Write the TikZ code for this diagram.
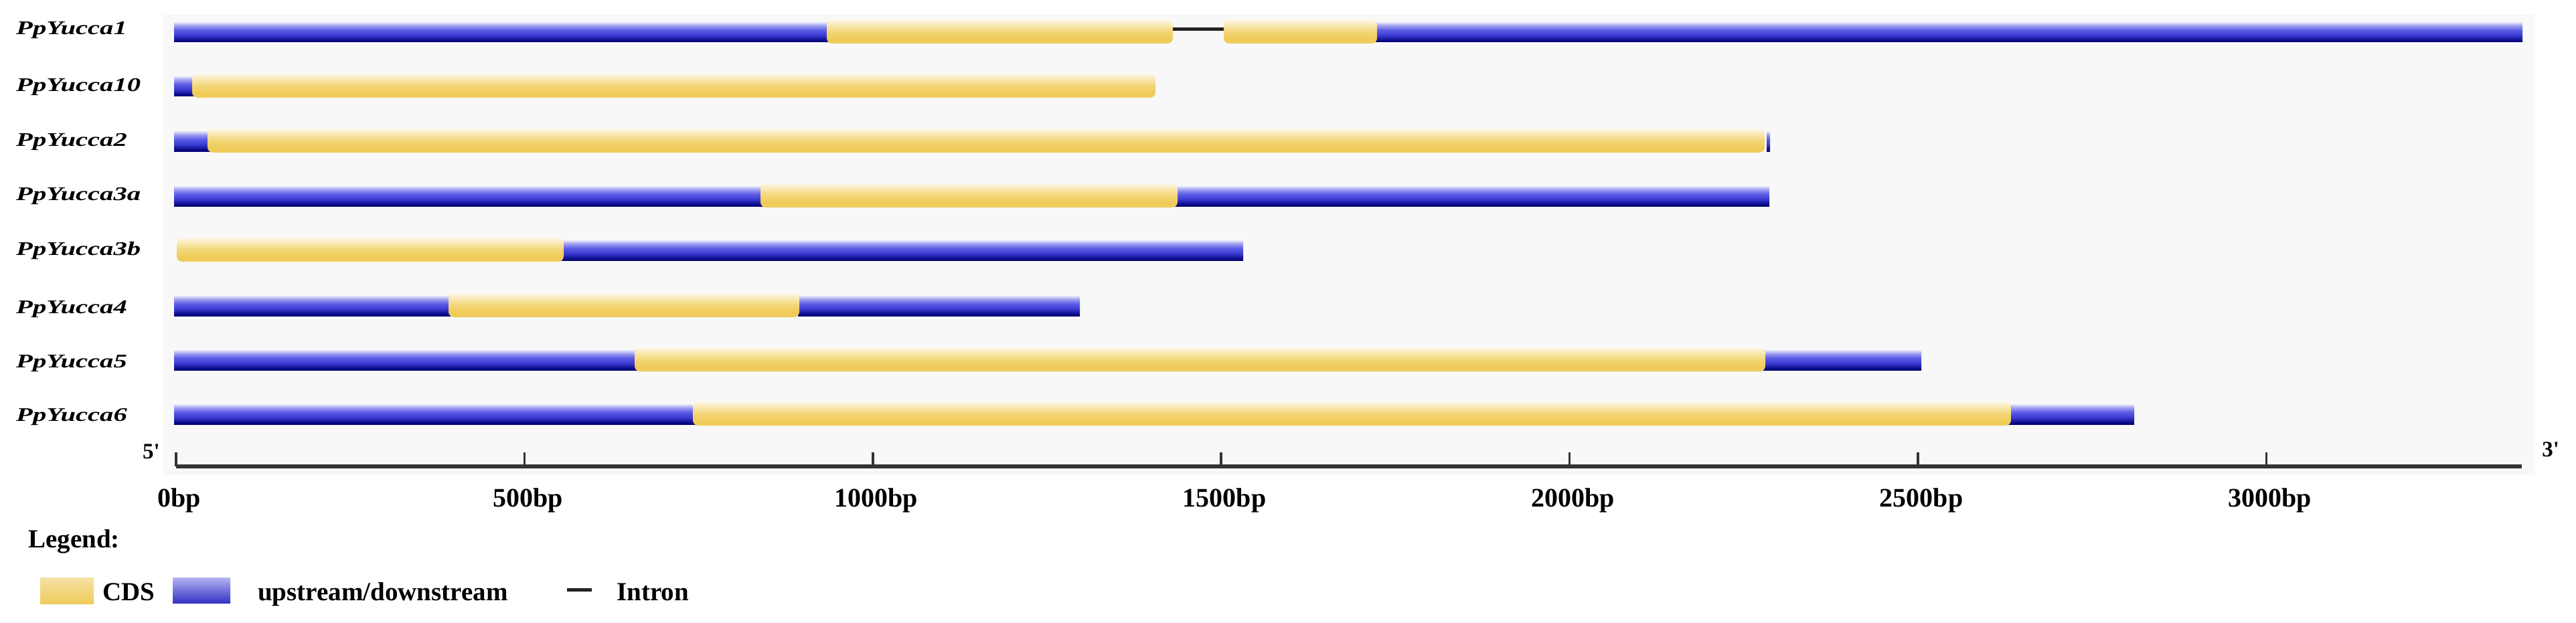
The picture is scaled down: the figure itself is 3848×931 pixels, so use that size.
\documentclass[tikz,border=0pt]{standalone}
\usepackage{fontspec}
\setmainfont{Liberation Serif}
\newfontfamily\nomapfont{Liberation Serif}[Ligatures=TeXOff]
\definecolor{panelbg}{HTML}{F8F8F8}
\definecolor{axiscol}{HTML}{333333}
\definecolor{introncol}{HTML}{222222}
\definecolor{bA}{HTML}{000070}
\definecolor{bB}{HTML}{101090}
\definecolor{bC}{HTML}{3A3AD2}
\definecolor{bD}{HTML}{5C5CE6}
\definecolor{bE}{HTML}{9C9CF0}
\definecolor{bF}{HTML}{E8E8FB}
\definecolor{yA}{HTML}{EFCC60}
\definecolor{yB}{HTML}{EFCB58}
\definecolor{yC}{HTML}{F3D677}
\definecolor{yD}{HTML}{F8E6AC}
\definecolor{yE}{HTML}{FDF8EA}
\definecolor{legyTop}{HTML}{F5E2A5}
\definecolor{legyBot}{HTML}{EFCB5C}
\definecolor{legbTop}{HTML}{B4B4F2}
\definecolor{legbBot}{HTML}{3434C4}
\pgfdeclareverticalshading{blueshade}{100bp}{color(0bp)=(bA); color(25bp)=(bA); color(31bp)=(bB); color(42bp)=(bC); color(55bp)=(bD); color(66bp)=(bE); color(75bp)=(bF); color(100bp)=(bF)}
\pgfdeclareverticalshading{cdsshade}{100bp}{color(0bp)=(yA); color(25bp)=(yA); color(35bp)=(yB); color(50bp)=(yC); color(62bp)=(yD); color(75bp)=(yE); color(100bp)=(yE)}
\newcommand\utrseg[3]{\shade[utr] (#1,#3-15) rectangle (#2,#3+15);}
\newcommand\cdsseg[3]{\shade[cds] (#1,#3-19) rectangle (#2,#3+17);}
\newcommand\intronseg[3]{\draw[intronline] (#1,#3-4) -- (#2,#3-4);}
\newcommand\glab[1]{\scalebox{1.07}[0.76]{#1}}
\begin{document}
\begin{tikzpicture}[x=1pt,y=-1pt,
  utr/.style={shading=blueshade},
  cds/.style={shading=cdsshade, rounded corners=8pt},
  intronline/.style={draw=introncol, line width=5pt},
  genelab/.style={anchor=base west, inner sep=0pt, font=\fontsize{38}{40}\selectfont\bfseries\itshape},
  axislab/.style={anchor=base, inner sep=0pt, font=\fontsize{40}{42}\selectfont\bfseries},
  endlab/.style={inner sep=0pt, font=\fontsize{33}{35}\selectfont\bfseries\nomapfont},
  legtext/.style={anchor=base west, inner sep=0pt, font=\fontsize{39}{41}\selectfont\bfseries},
  axisline/.style={draw=axiscol, line width=6pt},
  tickline/.style={draw=axiscol, line width=3.5pt},
]
\useasboundingbox (0,0) rectangle (3848,931);
\fill[white] (0,0) rectangle (3848,931);
\fill[panelbg] (243,22) rectangle (3787,710);

% gene labels
\node[genelab] (g1) at (24,52)  {\glab{PpYucca1}};
\node[genelab] (g2) at (24,137) {\glab{PpYucca10}};
\node[genelab] (g3) at (24,218) {\glab{PpYucca2}};
\node[genelab] (g4) at (24,299) {\glab{PpYucca3a}};
\node[genelab] (g5) at (24,381) {\glab{PpYucca3b}};
\node[genelab] (g6) at (24,468) {\glab{PpYucca4}};
\node[genelab] (g7) at (24,549) {\glab{PpYucca5}};
\node[genelab] (g8) at (24,629) {\glab{PpYucca6}};

% PpYucca1
\utrseg{260}{1238}{48}
\utrseg{2055}{3768}{48}
\cdsseg{1235}{1752}{48}
\intronseg{1752}{1828}{48}
\cdsseg{1828}{2057}{48}
% PpYucca10
\utrseg{260}{292}{129}
\cdsseg{287}{1726}{129}
% PpYucca2
\utrseg{260}{314}{211}
\cdsseg{310}{2636}{211}
\utrseg{2639}{2644}{211}
% PpYucca3a
\utrseg{260}{1140}{293}
\utrseg{1755}{2643}{293}
\cdsseg{1136}{1759}{293}
% PpYucca3b
\utrseg{838}{1857}{374}
\cdsseg{264}{842}{374}
% PpYucca4
\utrseg{260}{674}{457}
\utrseg{1192}{1613}{457}
\cdsseg{670}{1194}{457}
% PpYucca5
\utrseg{260}{952}{538}
\utrseg{2634}{2870}{538}
\cdsseg{948}{2637}{538}
% PpYucca6
\utrseg{260}{1039}{619}
\utrseg{3000}{3188}{619}
\cdsseg{1035}{3004}{619}

% axis
\draw[axisline] (263,697) -- (3767,697);
\foreach \k/\lab in {0/0bp,1/500bp,2/1000bp,3/1500bp,4/2000bp,5/2500bp,6/3000bp}{
  \draw[tickline] (263+520.4*\k,676) -- (263+520.4*\k,697);
  \node[axislab] (t\k) at (268+520.4*\k,757) {\lab};
}
\node[endlab, anchor=base east] (five) at (239,685) {5'};
\node[endlab, anchor=base west] (three) at (3797,682) {3'};

% legend
\node[legtext] (leg) at (42,818) {Legend:};
\shade[top color=legyTop, bottom color=legyBot] (60,863) rectangle (140,902);
\node[legtext] (lcds) at (153,897) {CDS};
\shade[top color=legbTop, bottom color=legbBot] (258,863) rectangle (344,901);
\node[legtext] (lutr) at (385,897) {upstream/downstream};
\draw[intronline] (847,881) -- (884,881);
\node[legtext] (lint) at (921,897) {Intron};
\end{tikzpicture}
\end{document}
